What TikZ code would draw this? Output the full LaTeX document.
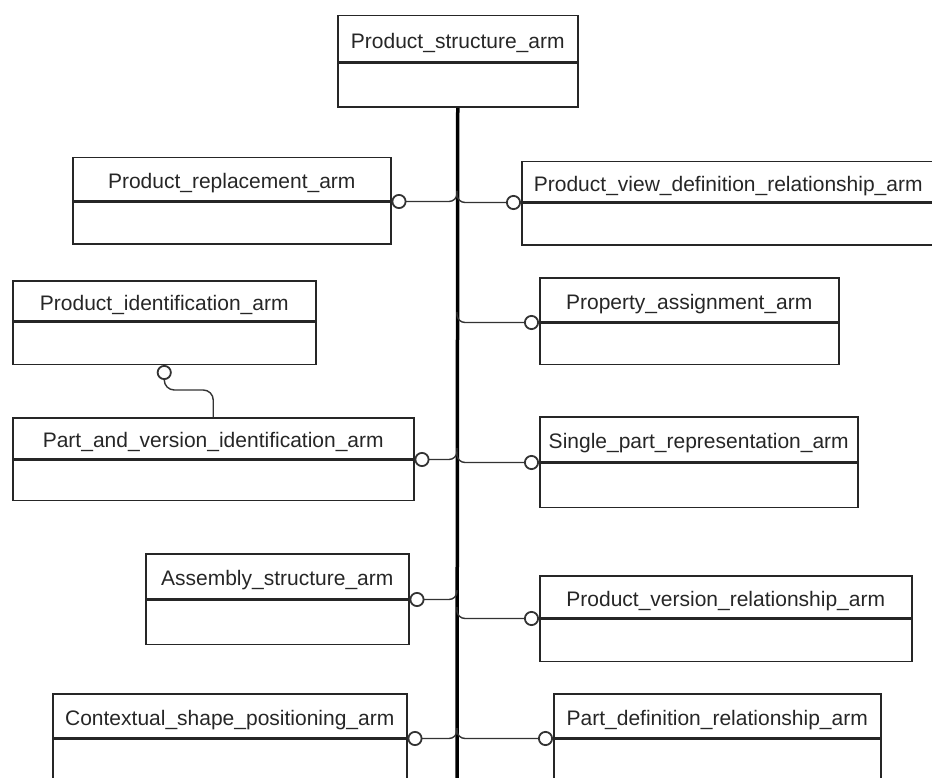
\documentclass[tikz,border=0pt]{standalone}
\usepackage{fontspec}
\setmainfont{Liberation Sans}
\usetikzlibrary{arrows.meta}

\begin{document}
\begin{tikzpicture}[x=1pt, y=-1pt,
  head/.style={draw=black!85, line width=1.5pt, anchor=north west, inner sep=0pt,
    text height=19pt, text depth=0pt,
    font=\fontsize{21}{25}\selectfont, text=black!85},
  body/.style={draw=black!85, line width=1.5pt, anchor=north, inner sep=0pt},
  link/.style={draw=black!80, line width=1.4pt, rounded corners=8pt,
    -{Circle[open, length=15pt, width=15pt, line width=1.8pt]}},
  trunk/.style={draw=black, line width=3.5pt}]
  \useasboundingbox (0,0) rectangle (932,778);

  \node[head, minimum width=240pt, minimum height=46pt] (pstr) at (337,15) {Product\_structure\_arm};
  \node[body, minimum width=240pt, minimum height=44pt] (pstr-b) at (pstr.south) {};

  % left column
  \node[head, minimum width=318pt, minimum height=43pt] (prep) at (72,157) {Product\_replacement\_arm};
  \node[body, minimum width=318pt, minimum height=42pt] (prep-b) at (prep.south) {};
  \node[head, minimum width=303pt, minimum height=40pt] (pid) at (12,280) {Product\_identification\_arm};
  \node[body, minimum width=303pt, minimum height=42pt] (pid-b) at (pid.south) {};
  \node[head, minimum width=401pt, minimum height=41pt] (pvid) at (12,417) {Part\_and\_version\_identification\_arm};
  \node[body, minimum width=401pt, minimum height=40pt] (pvid-b) at (pvid.south) {};
  \node[head, minimum width=263pt, minimum height=45pt] (asm) at (145,553) {Assembly\_structure\_arm};
  \node[body, minimum width=263pt, minimum height=44pt] (asm-b) at (asm.south) {};
  \node[head, minimum width=354pt, minimum height=44pt] (csp) at (52,693) {Contextual\_shape\_positioning\_arm};
  \node[body, minimum width=354pt, minimum height=60pt] (csp-b) at (csp.south) {};

  % right column
  \node[head, minimum width=413pt, minimum height=40pt] (pvdr) at (521,161) {Product\_view\_definition\_relationship\_arm};
  \node[body, minimum width=413pt, minimum height=42pt] (pvdr-b) at (pvdr.south) {};
  \node[head, minimum width=299pt, minimum height=44pt] (pas) at (539,277) {Property\_assignment\_arm};
  \node[body, minimum width=299pt, minimum height=41pt] (pas-b) at (pas.south) {};
  \node[head, minimum width=318pt, minimum height=45pt] (spr) at (539,416) {Single\_part\_representation\_arm};
  \node[body, minimum width=318pt, minimum height=44pt] (spr-b) at (spr.south) {};
  \node[head, minimum width=372pt, minimum height=42pt] (pvr) at (539,575) {Product\_version\_relationship\_arm};
  \node[body, minimum width=372pt, minimum height=42pt] (pvr-b) at (pvr.south) {};
  \node[head, minimum width=327pt, minimum height=44pt] (pdr) at (553,693) {Part\_definition\_relationship\_arm};
  \node[body, minimum width=327pt, minimum height=60pt] (pdr-b) at (pdr.south) {};

  % trunk and junctions
  \coordinate (tend) at (457,790);
  \coordinate (j1) at (457,191);
  \coordinate (j2) at (457,312);
  \coordinate (j3) at (457,448);
  \coordinate (j4) at (457,452);
  \coordinate (j5) at (457,590);
  \coordinate (j6) at (457,607);
  \coordinate (j7) at (457,728);
  \coordinate (bend) at (190,390);
  \draw[trunk] (pstr-b.south) -- (tend);

  \draw[link] (j1) |- (prep.south east);
  \draw[link] (j1) |- (pvdr.south west);
  \draw[link] (j2) |- (pas.south west);
  \draw[link] (j3) |- (pvid.south east);
  \draw[link] (j4) |- (spr.south west);
  \draw[link] (j5) |- (asm.south east);
  \draw[link] (j6) |- (pvr.south west);
  \draw[link] (j7) |- (csp.south east);
  \draw[link] (j7) |- (pdr.south west);
  \draw[link, rounded corners=10pt] (pvid.north) |- (bend) -| (pid-b.south);
\end{tikzpicture}
\end{document}
